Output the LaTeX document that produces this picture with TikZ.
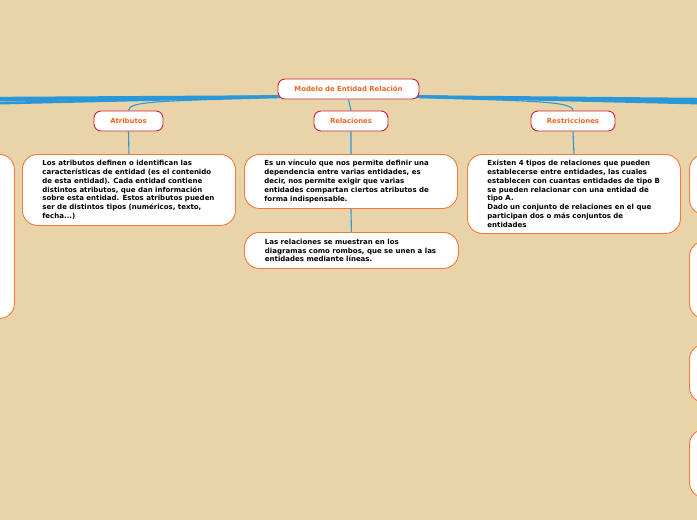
\documentclass[tikz,border=0pt]{standalone}
\usepackage{fontspec}
\setmainfont{DejaVu Sans}
\usetikzlibrary{backgrounds}

\definecolor{paper}{RGB}{232,212,168}
\definecolor{linkblue}{RGB}{42,152,216}
\definecolor{topred}{RGB}{208,34,56}
\definecolor{txtorange}{RGB}{240,100,32}
\definecolor{boxorange}{RGB}{244,120,56}

% first line of a note, keeps the text block at a fixed width
\newcommand{\noteline}[1]{\makebox[173pt][l]{#1}}

\tikzset{
  topic/.style={draw=topred, fill=white, rounded corners=7pt, line width=0.9pt,
    minimum height=20pt, inner sep=0pt, text=txtorange,
    font=\fontsize{6.9}{7.5}\selectfont\bfseries},
  note/.style={draw=boxorange, fill=white, rounded corners=15pt, line width=0.9pt,
    inner xsep=0pt, inner ysep=4pt, align=left, anchor=north west,
    font=\fontsize{7}{8.8}\selectfont\bfseries},
  ghost/.style={draw=boxorange, fill=white, rounded corners=15pt, line width=0.9pt,
    minimum width=213pt, anchor=north west, inner sep=0pt},
  branch/.style={linkblue, line width=2.6pt},
  link/.style={linkblue, line width=1.1pt}
}

\begin{document}
\begin{tikzpicture}[x=1pt, y=-1pt]
  \useasboundingbox (0,0) rectangle (697,520);

  % main topics
  \node[topic, minimum width=141pt] (root) at (348.5,89) {Modelo de Entidad Relación};
  \node[topic, minimum width=69pt] (atr) at (128.5,121) {Atributos};
  \node[topic, minimum width=74pt] (rel) at (351,121) {Relaciones};
  \node[topic, minimum width=84pt] (res) at (573,121) {Restricciones};

  % notes
  \node[note, minimum width=213pt, minimum height=71pt] (atrtxt) at (22,154) {\noteline{Los atributos definen o identifican las}\\
    características de entidad (es el contenido\\
    de esta entidad). Cada entidad contiene\\
    distintos atributos, que dan información\\
    sobre esta entidad. Estos atributos pueden\\
    ser de distintos tipos (numéricos, texto,\\
    fecha...)};
  \node[note, minimum width=213pt, minimum height=54pt] (reltxt) at (244,154) {\noteline{Es un vínculo que nos permite definir una}\\
    dependencia entre varias entidades, es\\
    decir, nos permite exigir que varias\\
    entidades compartan ciertos atributos de\\
    forma indispensable.};
  \node[note, minimum width=214pt, minimum height=36pt] (reltxtb) at (244,232) {\noteline{Las relaciones se muestran en los}\\
    diagramas como rombos, que se unen a las\\
    entidades mediante líneas.};
  \node[note, minimum width=213pt, minimum height=79pt] (restxt) at (467,154) {\noteline{Existen 4 tipos de relaciones que pueden}\\
    establecerse entre entidades, las cuales\\
    establecen con cuantas entidades de tipo B\\
    se pueden relacionar con una entidad de\\
    tipo A.\\
    Dado un conjunto de relaciones en el que\\
    participan dos o más conjuntos de\\
    entidades};

  % boxes cut by the edges
  \node[ghost, minimum height=164pt] (leftbox) at (-199,154) {};
  \node[ghost, minimum height=60pt] (rightA) at (689,154) {};
  \node[ghost, minimum height=77pt] (rightB) at (689,241) {};
  \node[ghost, minimum height=58pt] (rightC) at (689,344) {};
  \node[ghost, minimum height=68pt] (rightD) at (689,429) {};

  % branches leaving the page
  \coordinate (farL1) at (-100,98.7);
  \coordinate (farL2) at (-100,101.5);
  \coordinate (farL3) at (-100,105.5);
  \coordinate (farR1) at (800,100);
  \coordinate (farR2) at (800,102.5);
  \coordinate (farR3) at (800,105.5);

  \begin{pgfonlayer}{background}
    \fill[paper] (-250,-50) rectangle (950,600);
    \foreach \e in {farL1,farL2,farL3}
      \draw[branch] ([xshift=10pt,yshift=3pt]root.south west) -- (\e);
    \foreach \e in {farR1,farR2,farR3}
      \draw[branch] ([xshift=-10pt,yshift=3pt]root.south east) -- (\e);

    % links to topics
    \draw[link] ([xshift=8pt,yshift=2pt]root.south west) .. controls (160,101) and (128.5,101) .. (atr.north);
    \draw[link] (root.south) -- (rel.north);
    \draw[link] ([xshift=-8pt,yshift=2pt]root.south east) .. controls (530,101) and (573,101) .. (res.north);

    % links to notes
    \draw[link] (atr.south) -- (atrtxt.north);
    \draw[link] (rel.south) -- (reltxt.north);
    \draw[link] (reltxt.south) -- (reltxtb.north);
    \draw[link] (res.south) -- (restxt.north);
  \end{pgfonlayer}
\end{tikzpicture}
\end{document}
